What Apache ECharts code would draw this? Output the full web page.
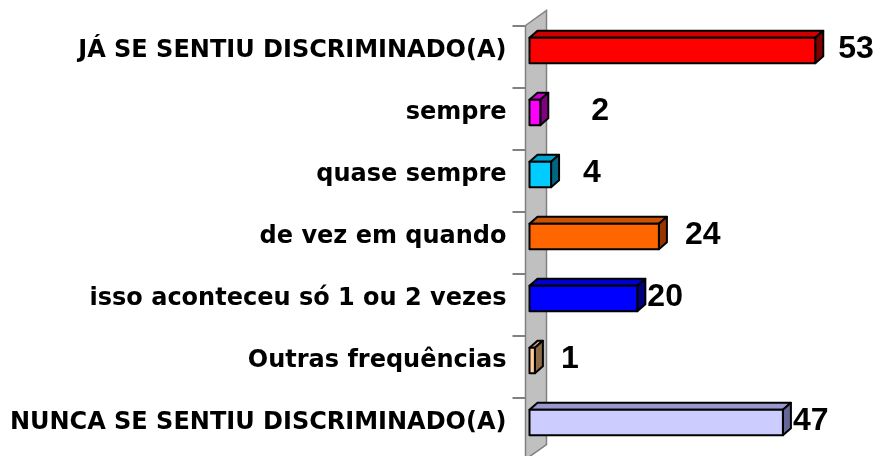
<!DOCTYPE html>
<html>
<head>
<meta charset="utf-8">
<script src="https://cdn.jsdelivr.net/npm/echarts@6/dist/echarts.min.js"></script>
<style>html,body{margin:0;padding:0;background:#fff}#c{width:873px;height:456px}</style>
</head>
<body>
<div id="c"></div>
<script>
const categories = [
  'JÁ SE SENTIU DISCRIMINADO(A)',
  'sempre',
  'quase sempre',
  'de vez em quando',
  'isso aconteceu só 1 ou 2 vezes',
  'Outras frequências',
  'NUNCA SE SENTIU DISCRIMINADO(A)'
];
const values = [53, 2, 4, 24, 20, 1, 47];

// styling (not data)
const frontColors = ['#FF0000', '#FF00FF', '#00CCFF', '#FF6600', '#0000FF', '#FFCC99', '#CCCCFF'];
const topColors   = ['#CC0000', '#CC00CC', '#00A3CC', '#CC5200', '#0000CC', '#CCA37A', '#9999CC'];
const sideColors  = ['#800000', '#800080', '#006680', '#993300', '#000080', '#8B6A48', '#666699'];
const labelGaps   = [15, 43, 24, 18, 2, 18, 2];

const DX = 8, DY = 7;

const chart = echarts.init(document.getElementById('c'), null, {renderer: 'canvas'});

const barData = values.map((v, i) => [v, i]);

chart.setOption({
  animation: false,
  backgroundColor: '#ffffff',
  grid: {left: 529.5, right: 20, top: 19.5, bottom: 2.5, containLabel: false},
  xAxis: {type: 'value', min: 0, max: 60, show: false},
  yAxis: {
    type: 'category',
    data: categories,
    inverse: true,
    axisLine: {show: false},
    axisTick: {show: false},
    splitLine: {show: false},
    axisLabel: {
      margin: 23,
      fontFamily: 'DejaVu Sans',
      fontWeight: 'bold',
      fontSize: 24,
      color: '#000',
      padding: [9, 0, 0, 0]
    }
  },
  series: [
    {
      type: 'custom',
      name: 'wall',
      clip: false,
      z: 1,
      data: [[0, 0]],
      encode: {x: 0, y: 1},
      renderItem: function (params, api) {
        const p = api.coord([0, 0]);
        const band = api.size([0, 1])[1];
        const n = categories.length;
        const xl = p[0] - 4;
        const yt = p[1] - band / 2 + 6;
        const yb = yt + n * band;
        const children = [{
          type: 'polygon',
          shape: {points: [[xl, yt], [xl + 21, yt - 15], [xl + 21, yb - 15], [xl, yb]]},
          style: {fill: '#C0C0C0', stroke: '#808080', lineWidth: 1.5}
        }];
        for (let i = 0; i <= n; i++) {
          const y = Math.round(yt + i * band);
          children.push({
            type: 'line',
            shape: {x1: xl - 13, y1: y, x2: xl, y2: y},
            style: {stroke: '#808080', lineWidth: 2}
          });
        }
        return {type: 'group', children: children};
      }
    },
    {
      type: 'custom',
      name: 'bars',
      clip: false,
      z: 2,
      data: barData,
      encode: {x: 0, y: 1},
      renderItem: function (params, api) {
        const i = params.dataIndex;
        const v = api.value(0);
        const ci = api.value(1);
        const p0 = api.coord([0, ci]);
        const p1 = api.coord([v, ci]);
        const band = api.size([0, 1])[1];
        const h = band * 0.41;
        const x0 = p0[0], x1 = p1[0];
        const yT = p0[1] - h / 2, yB = p0[1] + h / 2;
        const stroke = {stroke: '#000', lineWidth: 2, lineJoin: 'round'};
        return {
          type: 'group',
          children: [
            {type: 'polygon', shape: {points: [[x0, yT], [x0 + DX, yT - DY], [x1 + DX, yT - DY], [x1, yT]]},
             style: Object.assign({fill: topColors[i]}, stroke)},
            {type: 'polygon', shape: {points: [[x1, yT], [x1 + DX, yT - DY], [x1 + DX, yB - DY], [x1, yB]]},
             style: Object.assign({fill: sideColors[i]}, stroke)},
            {type: 'rect', shape: {x: x0, y: yT, width: x1 - x0, height: h},
             style: Object.assign({fill: frontColors[i]}, stroke)},
            {type: 'text',
             style: {text: String(v), x: x1 + DX + labelGaps[i], y: p0[1] - 1,
                     align: 'left', verticalAlign: 'middle',
                     fontFamily: 'Liberation Sans', fontWeight: 'bold', fontSize: 32, fill: '#000'}}
          ]
        };
      }
    }
  ]
});
</script>
</body>
</html>
